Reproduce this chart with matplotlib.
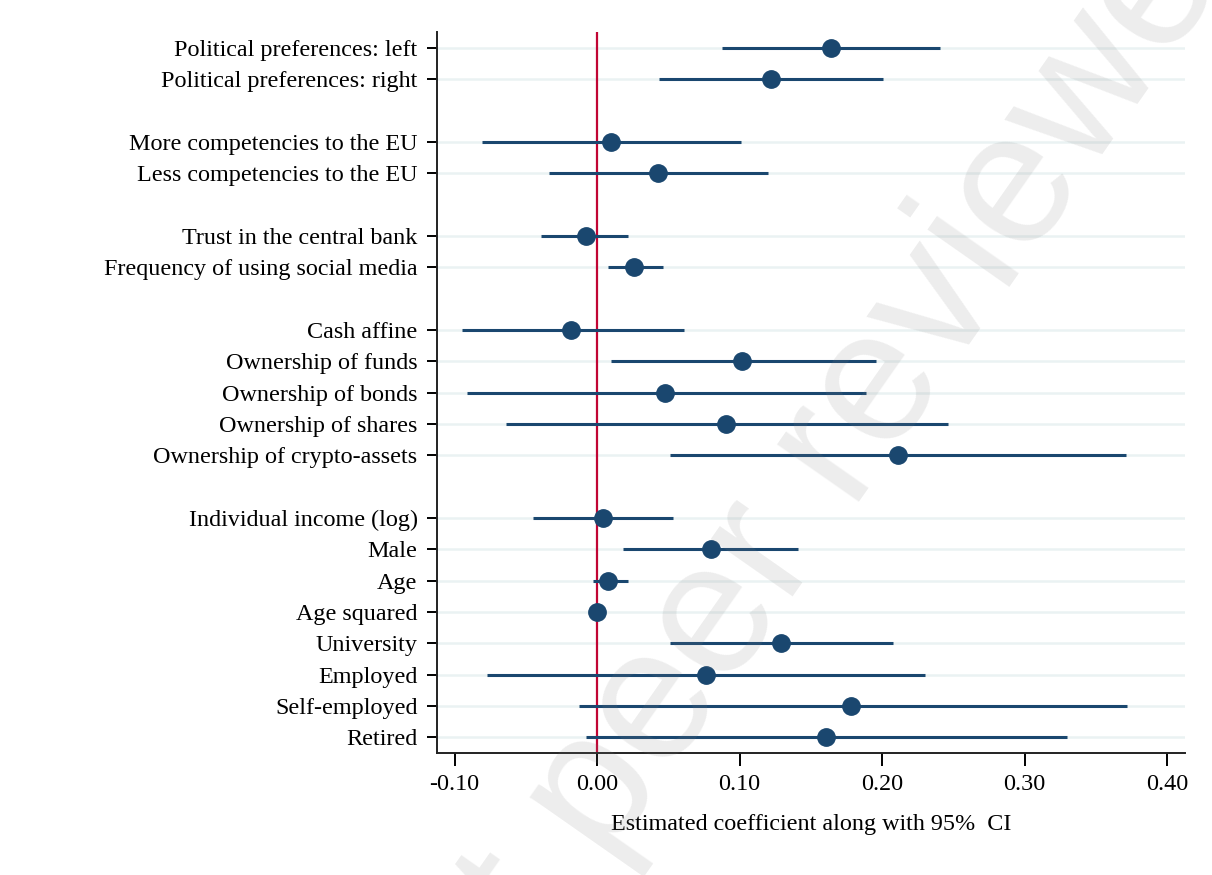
import matplotlib
matplotlib.use("Agg")
import matplotlib.pyplot as plt
import numpy as np

# variable labels, top to bottom (None = gap between blocks)
labels = [
    "Political preferences: left", "Political preferences: right", None,
    "More competencies to the EU", "Less competencies to the EU", None,
    "Trust in the central bank", "Frequency of using social media", None,
    "Cash affine", "Ownership of funds", "Ownership of bonds",
    "Ownership of shares", "Ownership of crypto-assets", None,
    "Individual income (log)", "Male", "Age", "Age squared",
    "University", "Employed", "Self-employed", "Retired",
]
coef = [0.164, 0.122, 0.010, 0.043, -0.008, 0.026,
        -0.018, 0.102, 0.048, 0.0905, 0.211,
        0.004, 0.080, 0.008, 0.000, 0.129, 0.0765, 0.178, 0.161]
ci_low = [0.088, 0.0435, -0.081, -0.034, -0.039, 0.008,
          -0.095, 0.010, -0.091, -0.064, 0.051,
          -0.045, 0.018, -0.003, -0.001, 0.051, -0.077, -0.013, -0.008]
ci_high = [0.241, 0.201, 0.101, 0.120, 0.022, 0.046,
           0.061, 0.196, 0.189, 0.246, 0.371,
           0.053, 0.141, 0.022, 0.001, 0.208, 0.230, 0.372, 0.330]
xticks = [-0.10, 0.00, 0.10, 0.20, 0.30, 0.40]

navy = "#1a476f"
red = "#c10534"

plt.rcParams["font.family"] = ["Liberation Serif", "DejaVu Serif"]

fig = plt.figure(figsize=(12.12, 8.75), dpi=100)
ax = fig.add_axes([0.3606, 0.1394, 0.6171, 0.824])

# slot positions, skipping the gaps
pos = [i for i, l in enumerate(labels) if l is not None]
names = [l for l in labels if l is not None]

for y in pos:
    ax.axhline(y, color="#eaf2f3", lw=1.8, zorder=0)

ax.axvline(0, color=red, lw=1.6, zorder=1)
ax.hlines(pos, ci_low, ci_high, color=navy, lw=2.2, zorder=2)
ax.plot(coef, pos, "o", color=navy, ms=12.5, zorder=3)

ax.set_yticks(pos)
ax.set_yticklabels(names, fontsize=17.4)
ax.set_ylim(22.5, -0.5)
ax.set_xlim(-0.1123, 0.4126)
ax.set_xticks(xticks)
ax.set_xticklabels(["%.2f" % t for t in xticks], fontsize=17.4)
ax.set_xlabel("Estimated coefficient along with 95%  CI", fontsize=17.4, labelpad=14)

ax.tick_params(axis="y", length=7, width=1.4, pad=7)
ax.tick_params(axis="x", length=9, width=1.4, pad=6)
for s in ["top", "right"]:
    ax.spines[s].set_visible(False)
for s in ["left", "bottom"]:
    ax.spines[s].set_linewidth(1.4)
    ax.spines[s].set_color("#222222")

# SSRN style watermark
fig.text(0.5033, 0.1177, "Preprint not peer reviewed", fontsize=136,
         family="Liberation Sans", color="gray", alpha=0.14,
         rotation=55, ha="center", va="center", rotation_mode="anchor")

fig.savefig("out.png", dpi=100)
